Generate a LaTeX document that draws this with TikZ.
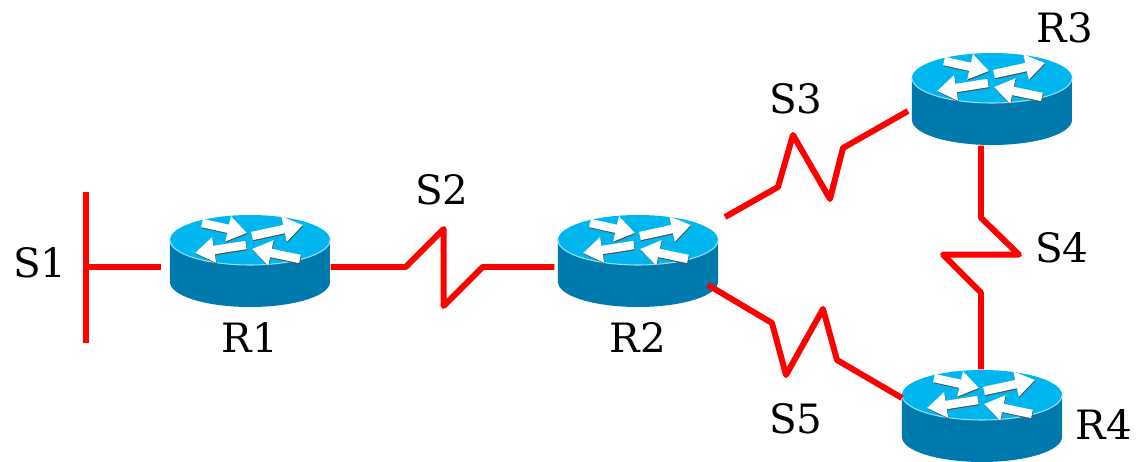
\documentclass[tikz,border=0pt]{standalone}
\usepackage{fontspec}
\setmainfont{DejaVu Serif}
\usepackage{tikz}
\usetikzlibrary{arrows.meta}
\usepackage{xcolor}
\definecolor{rtop}{HTML}{00B6EE}
\definecolor{rside}{HTML}{0079AC}
\definecolor{redl}{HTML}{FF0000}
\tikzstyle{router}=[minimum width=1.6cm,minimum height=0.92cm,inner sep=0pt]
\tikzstyle{serial}=[redl,line width=1.7pt,line join=round]
\tikzstyle{lbl}=[anchor=base,inner sep=0pt,font=\fontsize{11.5}{14}\selectfont]
\tikzstyle{rarrow}=[white,line width=2.4pt,-{Triangle[width=7pt,length=5.5pt]}]
\newcommand{\routericon}[1]
{  % #1 = name of the router node
  \begin{scope}[shift={(#1.center)}]
  \fill[rside] (-0.8,0.21) -- (-0.8,-0.21) arc[start angle=180,end angle=360,x radius=0.8,y radius=0.25]
               -- (0.8,0.21) -- cycle;
  \fill[rtop] (0,0.21) ellipse[x radius=0.8,y radius=0.25];
  \draw[cyan!40,line width=0.3pt] (-0.8,0.21) arc[start angle=180,end angle=360,x radius=0.8,y radius=0.25];
  \begin{scope}[shift={(0,0.21)},x=0.01cm,y=-0.01cm]
  \foreach \a/\b/\c/\d in {-48/-17/-3/-7, 2/-4/53/-15, -4/5/-55/13, 50/19/2/9}
    {\draw[rarrow,black!70] (\a+0.5,\b+1) -- (\c+0.5,\d+1);
     \draw[rarrow] (\a,\b) -- (\c,\d);}
  \end{scope}
  \end{scope}
}

\begin{document}
\begin{tikzpicture}
  \useasboundingbox (0,0) rectangle (11.36,-4.62);
  % routers
  \node[router] (R1) at (2.50,-2.61) {};
  \node[router] (R2) at (6.38,-2.61) {};
  \node[router] (R3) at (9.92,-0.99) {};
  \node[router] (R4) at (9.82,-4.16) {};
  \foreach \r in {R1,R2,R3,R4} {\routericon{\r}}
  % links
  \coordinate (bar) at (0.86,-2.67);
  \draw[serial] (0.86,-1.92) -- (0.86,-3.43);
  \draw[serial] ([xshift=-0.08cm,yshift=-0.06cm]R1.west) -- (bar);
  \draw[serial] ([yshift=-0.06cm]R1.east) -- ++(0.75,0) -- ++(0.38,0.38) -- ++(0,-0.77)
                -- ++(0.39,0.39) -- ([xshift=-0.03cm,yshift=-0.06cm]R2.west);
  \draw[serial] ([shift={(0.87,0.44)}]R2.center) -- ++(0.53,0.30) -- ++(0.15,0.52)
                -- ++(0.37,-0.64) -- ++(0.13,0.51) -- ([shift={(-0.84,-0.12)}]R3.center);
  \draw[serial] ([xshift=-0.11cm]R3.south) -- ++(0,-0.72) -- ++(0.38,-0.37) -- ++(-0.76,0)
                -- ++(0.38,-0.38) -- ([xshift=-0.01cm]R4.north);
  \draw[serial] ([shift={(0.70,-0.24)}]R2.center) -- ++(0.64,-0.38) -- ++(0.14,-0.52)
                -- ++(0.37,0.66) -- ++(0.14,-0.51) -- ([shift={(-0.80,0.18)}]R4.center);
  % labels
  \node[lbl] (tS1) at (0.40,-2.77) {S1};
  \node[lbl] (tS2) at (4.42,-2.05) {S2};
  \node[lbl] (tS3) at (7.96,-1.13) {S3};
  \node[lbl] (tS4) at (10.62,-2.63) {S4};
  \node[lbl] (tS5) at (7.96,-4.33) {S5};
  \node[lbl] (tR1) at (2.50,-3.52) {R1};
  \node[lbl] (tR2) at (6.38,-3.52) {R2};
  \node[lbl] (tR3) at (10.65,-0.43) {R3};
  \node[lbl] (tR4) at (11.04,-4.40) {R4};
\end{tikzpicture}
\end{document}
